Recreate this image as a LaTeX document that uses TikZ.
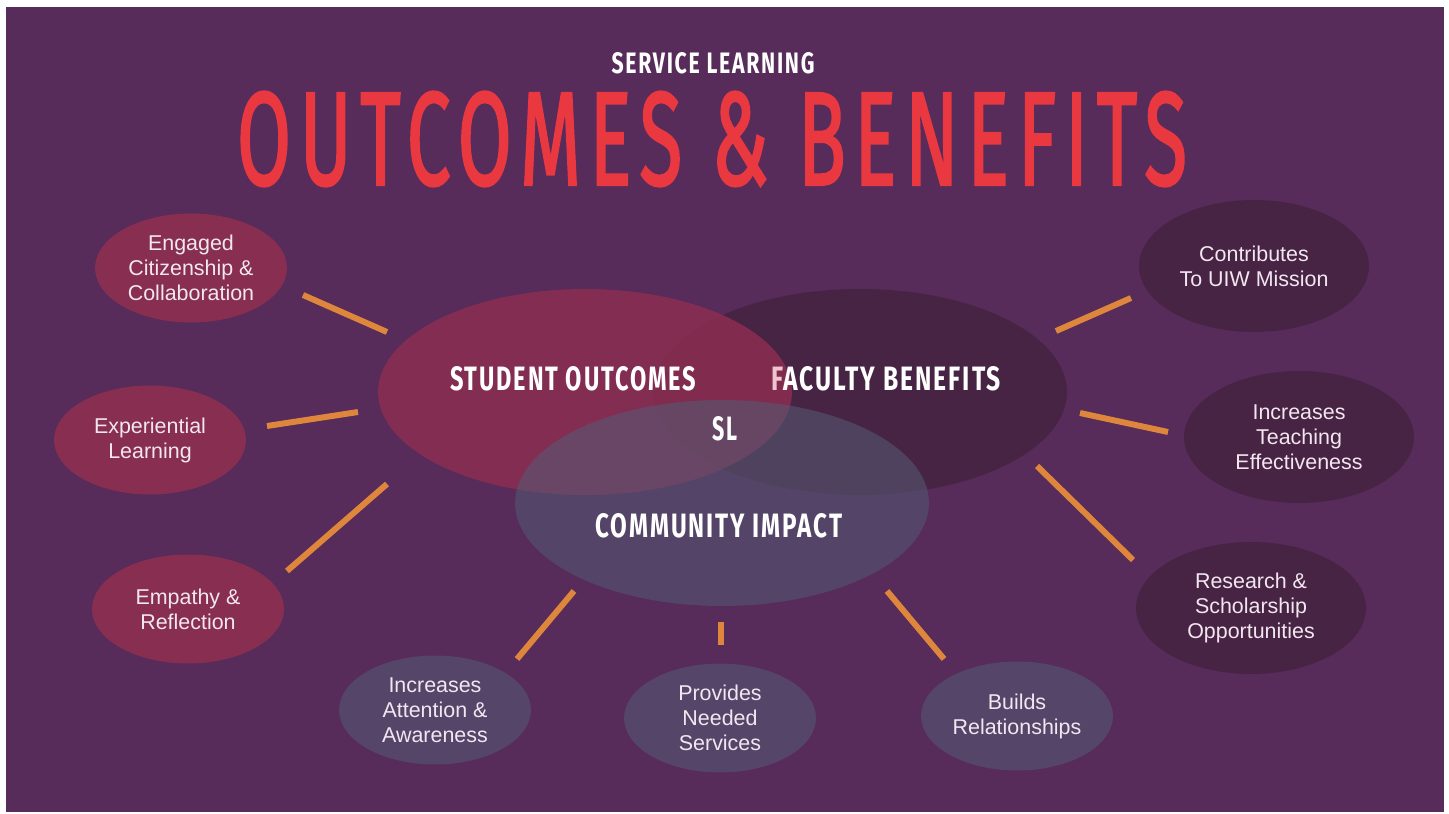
\documentclass[tikz,border=0pt]{standalone}
\usepackage{graphicx}
\usepackage{fontspec}
\setmainfont{Liberation Sans}
\newfontfamily\headfont[LetterSpace=8]{Fira Sans}
\newfontfamily\bigfont[LetterSpace=11, FakeBold=2]{Fira Sans}
\definecolor{bgpurple}{RGB}{87, 43, 90}
\definecolor{titlered}{RGB}{234, 56, 64}
\definecolor{studred}{RGB}{140, 46, 82}
\definecolor{facdark}{RGB}{72, 36, 68}
\definecolor{commgray}{RGB}{83, 92, 117}
\definecolor{smallred}{RGB}{136, 46, 80}
\definecolor{smallgray}{RGB}{85, 70, 105}
\definecolor{spokeorange}{RGB}{222, 135, 60}
\definecolor{softwhite}{RGB}{242, 230, 240}
\definecolor{tintpink}{RGB}{238, 196, 206}
\usetikzlibrary{shapes.geometric}

\begin{document}
\begin{tikzpicture}[x=0.02cm, y=-0.02cm,
  vennset/.style={ellipse, minimum width=8.28cm, minimum height=4.12cm, inner sep=0pt},
  vennlbl/.style={text=white, inner sep=0pt},
  bubble/.style={ellipse, inner sep=0pt, text=softwhite, align=center, font=\fontsize{12.2}{14.2}\selectfont},
  outcome/.style={bubble, fill=smallred, minimum width=3.84cm, minimum height=2.18cm},
  impact/.style={bubble, fill=smallgray, minimum width=3.84cm, minimum height=2.18cm},
  benefit/.style={bubble, fill=facdark, minimum width=4.6cm, minimum height=2.64cm},
  spoke/.style={draw=spokeorange, line width=3.4pt}
]
  \useasboundingbox (0,0) rectangle (1449,814);
  \fill[white] (0,0) rectangle (1449,814);
  \fill[bgpurple] (6,7) rectangle (1444,812);

  % Heading
  \node[text=white, inner sep=0pt] (kicker) at (713,63) {\resizebox{4.06cm}{0.42cm}{\headfont\bfseries SERVICE LEARNING}};
  \node[text=titlered, inner sep=0pt] (title) at (712,139) {\resizebox{19.0cm}{1.86cm}{\bigfont OUTCOMES \& BENEFITS}};

  % Venn
  \node[vennset, fill=facdark] (faculty) at (860,392) {};
  \node[vennset, fill=studred, fill opacity=0.85] (student) at (585,392) {};
  \node[vennlbl] (facultylbl) at (886,379) {\resizebox{4.6cm}{0.48cm}{\headfont\bfseries{\color{tintpink}F}ACULTY BENEFITS}};
  \node[vennlbl] (studentlbl) at (573,379) {\resizebox{4.92cm}{0.48cm}{\headfont\bfseries STUDENT OUTCOMES}};
  \node[vennset, fill=commgray, fill opacity=0.55] (community) at (722,503) {};
  \node[vennlbl] (communitylbl) at (719,526) {\resizebox{4.94cm}{0.48cm}{\headfont\bfseries COMMUNITY IMPACT}};
  \node[vennlbl] (sl) at (725,429) {\resizebox{0.5cm}{0.48cm}{\headfont\bfseries SL}};

  % Student outcomes
  \node[outcome] (engaged) at (191,268) {Engaged\\Citizenship \&\\Collaboration};
  \node[outcome] (experiential) at (150,440) {Experiential\\Learning};
  \node[outcome] (empathy) at (188,609) {Empathy \&\\Reflection};

  % Community impact
  \node[impact] (attention) at (435,710) {Increases\\Attention \&\\Awareness};
  \node[impact] (services) at (720,718) {Provides\\Needed\\Services};
  \node[impact] (relations) at (1017,716) {Builds\\Relationships};

  % Faculty benefits
  \node[benefit] (mission) at (1254,266) {Contributes\\To UIW Mission};
  \node[benefit] (teaching) at (1299,437) {Increases\\Teaching\\Effectiveness};
  \node[benefit] (research) at (1251,608) {Research \&\\Scholarship\\Opportunities};

  % Spokes
  \foreach \ax/\ay/\bx/\by [count=\i] in {303/295/387/332, 267/426/358/412, 287/571/387/484,
      517/659/574/591, 721/622/721/645, 887/591/944/659,
      1037/466/1133/560, 1080/413/1168/432, 1056/331/1131/298} {
    \coordinate (spokeA\i) at (\ax,\ay);
    \coordinate (spokeB\i) at (\bx,\by);
    \draw[spoke] (spokeA\i) -- (spokeB\i);
  }
\end{tikzpicture}
\end{document}
